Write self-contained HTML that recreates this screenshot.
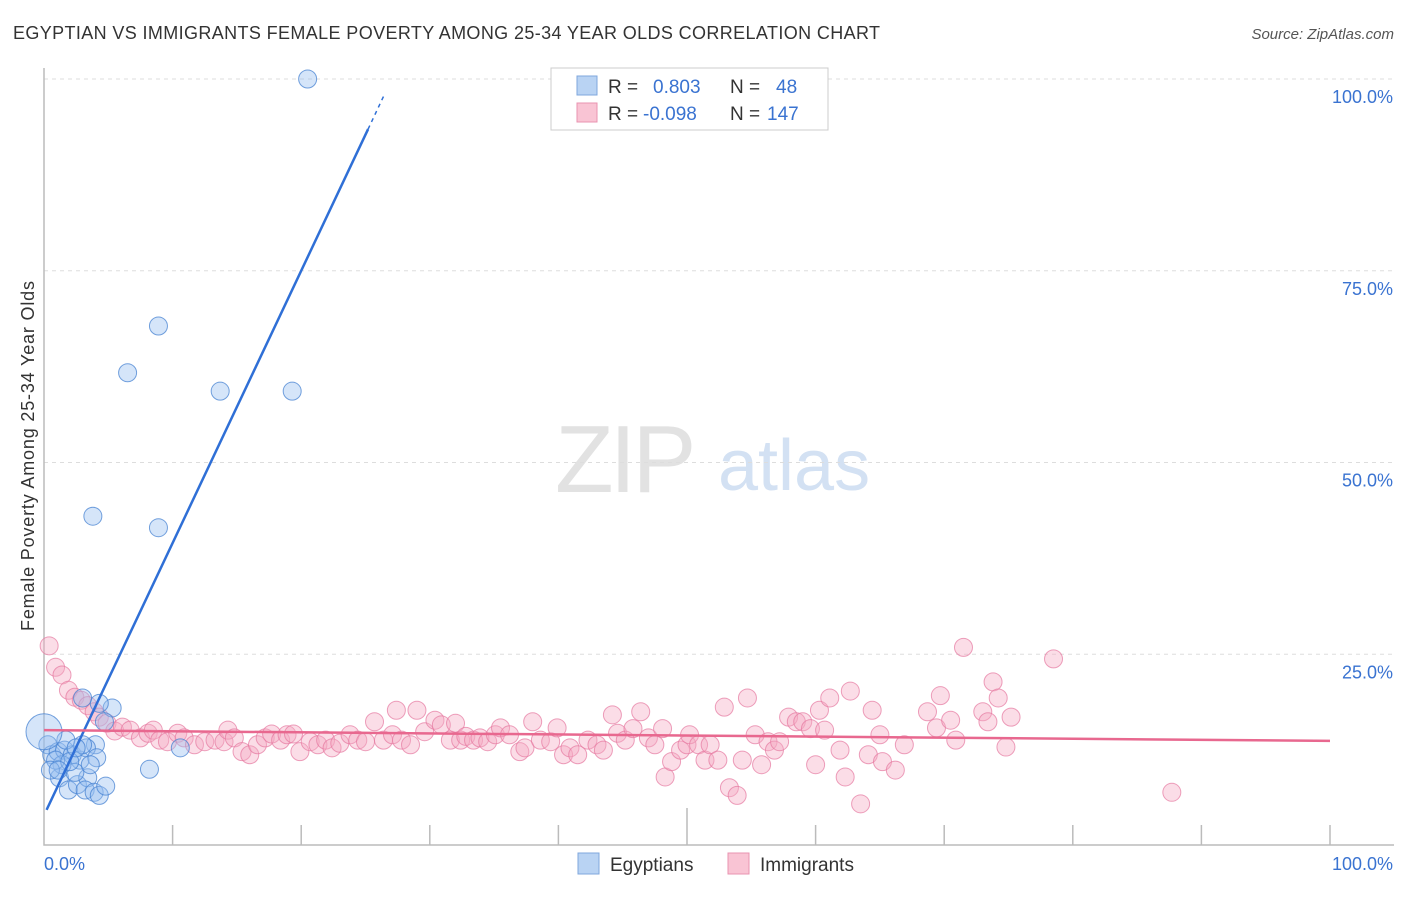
<!DOCTYPE html>
<html><head><meta charset="utf-8"><style>
body{margin:0;background:#fff;font-family:"Liberation Sans",sans-serif;}
svg text{font-family:"Liberation Sans",sans-serif;}
</style></head><body>
<svg id="chart" width="1406" height="892" xmlns="http://www.w3.org/2000/svg">
<text x="13" y="39" font-size="18" fill="#333" textLength="867" lengthAdjust="spacing">EGYPTIAN VS IMMIGRANTS FEMALE POVERTY AMONG 25-34 YEAR OLDS CORRELATION CHART</text>
<text x="1394" y="39" font-size="15" fill="#555" text-anchor="end" font-style="italic">Source: ZipAtlas.com</text>
<text transform="translate(34,456) rotate(-90)" font-size="18" fill="#333" text-anchor="middle" textLength="350" lengthAdjust="spacing">Female Poverty Among 25-34 Year Olds</text>
<g>
<text x="555" y="492" font-size="96" fill="#e2e2e2" font-family="Liberation Serif" letter-spacing="-4">ZIP</text>
<text x="718" y="490" font-size="72" fill="#d3e1f3">atlas</text>
</g>
<g id="grid"></g>
<g id="axes"></g>
<g id="pinkPts"></g>
<g id="bluePts"></g>
<g id="lines"></g>
<g>
<rect x="551" y="68" width="277" height="62" fill="#fff" stroke="#ccc"/>
<rect x="577" y="76" width="20" height="19" fill="#b9d3f3" stroke="#7fa7dd"/>
<rect x="577" y="103" width="20" height="19" fill="#f9c4d4" stroke="#e993b0"/>
<text x="608" y="93" font-size="19" fill="#333">R =</text>
<text x="653" y="93" font-size="19" fill="#3a73d1">0.803</text>
<text x="730" y="93" font-size="19" fill="#333">N =</text>
<text x="776" y="93" font-size="19" fill="#3a73d1">48</text>
<text x="608" y="120" font-size="19" fill="#333">R =</text>
<text x="643" y="120" font-size="19" fill="#3a73d1">-0.098</text>
<text x="730" y="120" font-size="19" fill="#333">N =</text>
<text x="767" y="120" font-size="19" fill="#3a73d1">147</text>
</g>
<g>
<rect x="578" y="853" width="21" height="21" fill="#b9d3f3" stroke="#7fa7dd"/>
<text x="610" y="871" font-size="19" fill="#333">Egyptians</text>
<rect x="728" y="853" width="21" height="21" fill="#f9c4d4" stroke="#e993b0"/>
<text x="760" y="871" font-size="19" fill="#333">Immigrants</text>
</g>
</svg>
<script>
const blueX=[20.5,8.9,6.5,13.7,19.3,3.8,8.9,8.2,10.6,5.3,4.3,3.0,4.7,0.3,0.6,1.1,1.6,2.2,2.8,4.0,3.3,1.2,1.9,2.6,3.4,4.1,3.2,3.9,4.3,4.8,2.4,1.4,0.9,2.0,0.5,3.0,3.6,1.7,1.1,2.5];
const blueY=[100,67.8,61.7,59.3,59.3,43.0,41.5,10.0,12.8,18.0,18.6,19.3,16.2,13.2,11.9,12.3,12.5,11.9,11.2,13.2,12.8,8.9,7.3,8.0,8.9,11.5,7.3,7.0,6.6,7.8,9.6,10.6,11.2,11.0,9.9,13.2,10.6,13.8,9.9,12.8];
const pinkX=[0.4,0.9,1.4,1.9,2.4,2.9,3.4,3.9,4.3,4.9,5.5,6.1,6.7,7.5,8.1,8.5,9.0,9.6,10.4,10.9,11.7,12.5,13.3,14.0,14.3,14.8,15.4,16.0,16.6,17.2,17.7,18.4,18.9,19.4,19.9,20.7,21.3,21.9,22.4,23.0,23.8,24.4,25.0,25.7,26.4,27.1,27.4,27.8,28.5,29.0,29.6,30.4,30.9,31.6,32.0,32.4,32.8,33.4,33.9,34.5,35.1,35.5,36.2,37.0,37.4,38.0,38.6,39.4,39.9,40.4,40.9,41.5,42.3,43.0,43.5,44.2,44.6,45.2,45.8,46.4,47.0,47.5,48.1,48.3,48.8,49.5,50.0,50.2,50.9,51.4,51.8,52.4,52.9,53.3,53.9,54.3,54.7,55.3,55.8,56.3,56.8,57.2,57.9,58.5,59.0,59.6,60.0,60.3,60.7,61.1,61.9,62.3,62.7,63.5,64.1,64.4,65.0,65.2,66.2,66.9,68.7,69.4,69.7,70.5,70.9,71.5,73.0,73.4,73.8,74.2,74.8,75.2,78.5,87.7];
const pinkY=[26.1,23.3,22.3,20.3,19.4,19.0,18.3,17.5,16.8,16.0,15.0,15.5,15.1,14.1,14.7,15.1,13.8,13.6,14.7,14.1,13.2,13.6,13.8,13.6,15.1,14.1,12.3,11.9,13.2,14.1,14.6,13.8,14.5,14.6,12.3,13.6,13.2,13.8,12.8,13.4,14.5,13.8,13.6,16.2,13.8,14.5,17.7,13.8,13.2,17.7,14.9,16.4,15.8,13.8,16.0,13.8,14.3,13.8,14.1,13.6,14.5,15.4,14.5,12.3,12.8,16.2,13.8,13.6,15.4,11.9,12.8,11.9,13.8,13.2,12.5,17.1,14.7,13.8,15.3,17.5,14.1,13.2,15.3,9.0,11.0,12.5,13.2,14.5,13.2,11.2,13.2,11.2,18.1,7.6,6.6,11.2,19.3,14.5,10.6,13.6,12.5,13.6,16.8,16.2,16.2,15.3,10.6,17.7,15.1,19.3,12.5,9.0,20.2,5.5,11.9,17.7,14.5,11.0,9.9,13.2,17.5,15.4,19.6,16.4,13.8,25.9,17.5,16.2,21.4,19.3,12.9,16.8,24.4,7.0];
const yTicks=[100,75,50,25];
const yTickLabels=["100.0%","75.0%","50.0%","25.0%"];
const xTickLabels=["0.0%","100.0%"];
const blueFit=[4.0,3.55];   // intercept, slope
const pinkFit=[15.1,-0.014];

const X=v=>44+v*12.86, Y=v=>846-v*7.67;
const NS="http://www.w3.org/2000/svg";
function mk(tag,attrs,parent){const e=document.createElementNS(NS,tag);for(const k in attrs)e.setAttribute(k,attrs[k]);parent.appendChild(e);return e;}
const grid=document.getElementById('grid'),axes=document.getElementById('axes');
yTicks.forEach((t,i)=>{
 const l=mk('line',{x1:44,x2:1394,y1:Y(t),y2:Y(t),stroke:'#ddd','stroke-dasharray':'4,4'},grid);
 
 
 const tx=mk('text',{x:1393,y:Y(t)+24,'font-size':18,fill:'#3a73d1','text-anchor':'end'},grid);
 tx.textContent=yTickLabels[i];
 
 
});
const ax=mk('path',{d:'M44 68 V845 H1394',fill:'none',stroke:'#bbb','stroke-width':1.5},axes);


for(let i=1;i<=10;i++){
 const tk=mk('line',{x1:X(i*10),x2:X(i*10),y1:i==5?808:825,y2:845,stroke:'#bbb','stroke-width':1.5},axes);
 
 
}
const xl0=mk('text',{x:44,y:870,'font-size':18,fill:'#3a73d1'},axes);xl0.textContent=xTickLabels[0];


const xl1=mk('text',{x:1393,y:870,'font-size':18,fill:'#3a73d1','text-anchor':'end'},axes);xl1.textContent=xTickLabels[1];


const pg=document.getElementById('pinkPts');
pinkX.forEach((x,i)=>{const c=mk('circle',{cx:X(x),cy:Y(pinkY[i]),r:9,fill:'rgba(246,170,195,0.4)',stroke:'rgba(230,120,160,0.7)','stroke-width':1},pg);
 
 });
const bg=document.getElementById('bluePts');
blueX.forEach((x,i)=>{const c=mk('circle',{cx:X(x),cy:Y(blueY[i]),r:9,fill:'rgba(150,190,240,0.4)',stroke:'rgba(70,130,210,0.75)','stroke-width':1},bg);
 
 });
const big=mk('circle',{cx:X(0),cy:Y(14.9),r:18,fill:'rgba(150,190,240,0.4)',stroke:'rgba(70,130,210,0.75)','stroke-width':1},bg);


const lg=document.getElementById('lines');
const bx1=0.2,bx2=25.2,bx3=26.5;
const bl=mk('line',{x1:X(bx1),y1:Y(blueFit[0]+blueFit[1]*bx1),x2:X(bx2),y2:Y(blueFit[0]+blueFit[1]*bx2),stroke:'#2f6fd6','stroke-width':2.5},lg);


const bd=mk('line',{x1:X(bx2),y1:Y(blueFit[0]+blueFit[1]*bx2),x2:X(bx3),y2:Y(blueFit[0]+blueFit[1]*bx3),stroke:'#2f6fd6','stroke-width':1.5,'stroke-dasharray':'4,4'},lg);


const pl=mk('line',{x1:X(0),y1:Y(pinkFit[0]),x2:X(100),y2:Y(pinkFit[0]+pinkFit[1]*100),stroke:'#e8688f','stroke-width':2.5},lg);


</script>
</body></html>
